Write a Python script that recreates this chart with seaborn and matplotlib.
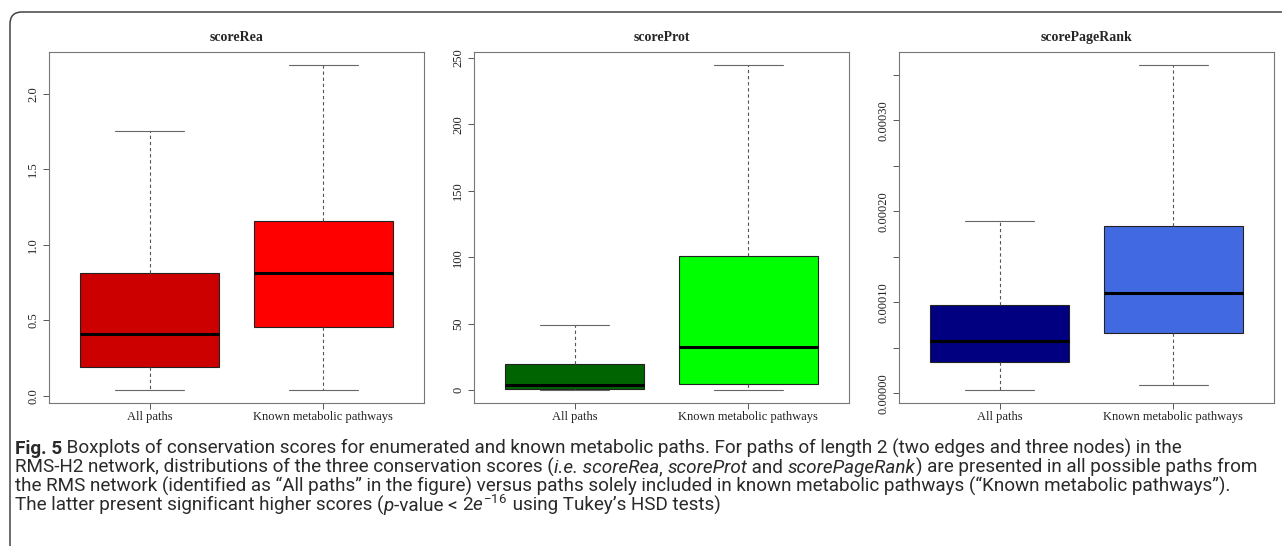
import matplotlib
matplotlib.use('Agg')
import matplotlib.pyplot as plt
from matplotlib.patches import FancyBboxPatch
from matplotlib.transforms import IdentityTransform
import pandas as pd
import seaborn as sns

groups = ['All paths', 'Known metabolic pathways']

# five-number summaries: min, Q1, median, Q3, max
rea_all = [0.04, 0.194, 0.41, 0.817, 1.753]
rea_known = [0.04, 0.454, 0.817, 1.157, 2.19]
prot_all = [0.0, 0.5, 3.8, 19.5, 48.8]
prot_known = [0.0, 4.3, 32.3, 100.7, 244.7]
pr_all = [0.0000037, 0.0000347, 0.0000574, 0.0000969, 0.000190]
pr_known = [0.0000091, 0.0000659, 0.0001098, 0.0001837, 0.000361]

rea_ticks = [0.0, 0.5, 1.0, 1.5, 2.0]
rea_labels = ['0.0', '0.5', '1.0', '1.5', '2.0']
prot_ticks = [0, 50, 100, 150, 200, 250]
prot_labels = ['0', '50', '100', '150', '200', '250']
pr_ticks = [0, 0.00005, 0.0001, 0.00015, 0.0002, 0.00025, 0.0003, 0.00035]
pr_labels = ['0.00000', '', '0.00010', '', '0.00020', '', '0.00030', '']

panels = [
    ('scoreRea', rea_all, rea_known, ['#CD0000', '#FF0000'], rea_ticks, rea_labels),
    ('scoreProt', prot_all, prot_known, ['#006400', '#00FF00'], prot_ticks, prot_labels),
    ('scorePageRank', pr_all, pr_known, ['#000080', '#4169E1'], pr_ticks, pr_labels),
]

W, H = 1282, 546
sns.set_theme(style='ticks')
plt.rcParams['font.family'] = ['Liberation Serif', 'DejaVu Serif']
plt.rcParams['mathtext.fontset'] = 'custom'
plt.rcParams['mathtext.rm'] = 'Roboto'
plt.rcParams['mathtext.it'] = 'Roboto:italic'

fig = plt.figure(figsize=(W / 100, H / 100), dpi=100)

# rounded frame around the figure
frame = FancyBboxPatch((10, -30), 1320, H - 12 + 30, boxstyle='round,pad=0,rounding_size=12',
                       transform=IdentityTransform(), fill=False, ec='#444444', lw=1.1)
fig.patches.append(frame)

lefts = [49, 474, 899]
for (name, a, k, cols, ticks, labels), left in zip(panels, lefts):
    ax = fig.add_axes([left / W, 1 - 403 / H, 375 / W, 351 / H])
    df = pd.DataFrame({'group': [groups[0]] * 5 + [groups[1]] * 5, 'value': a + k})
    sns.boxplot(data=df, x='group', y='value', hue='group', palette=cols, saturation=1,
                whis=(0, 100), width=0.8, linecolor='#222222', linewidth=0.8,
                showfliers=False, legend=False, ax=ax,
                medianprops={'color': 'black', 'linewidth': 2.2},
                whiskerprops={'linestyle': (0, (3, 2.5)), 'color': '#555555'},
                capprops={'color': '#666666'})
    lo = min(a + k)
    hi = max(a + k)
    pad = 0.04 * (hi - lo)
    ax.set_ylim(lo - pad, hi + pad)
    ax.set_xlim(-0.58, 1.58)
    ax.set_yticks(ticks)
    ax.set_yticklabels(labels, rotation=90, va='center')
    ax.set_xlabel('')
    ax.set_ylabel('')
    ax.set_title(name, fontweight='bold', fontsize=10, pad=8)
    ax.tick_params(axis='both', labelsize=9.0, length=4, width=0.7, color='#555555',
                   labelcolor='#222222')
    ax.tick_params(axis='y', pad=3)
    ax.tick_params(axis='x', pad=1.5)
    for s in ax.spines.values():
        s.set_visible(True)
        s.set_color('#777777')
        s.set_linewidth(0.8)

# caption, drawn piece by piece to mix bold / italic
cap_font = ['Roboto', 'DejaVu Sans']
cap_size = 13.6
renderer = fig.canvas.get_renderer()


def piece_width(txt, **kw):
    t1 = fig.text(0, 0, txt + 'x', family=cap_font, size=cap_size, **kw)
    t2 = fig.text(0, 0, 'x', family=cap_font, size=cap_size, **kw)
    w = t1.get_window_extent(renderer).width - t2.get_window_extent(renderer).width
    t1.remove()
    t2.remove()
    return w


def caption_line(y_top, pieces):
    x = 15
    for txt, kw in pieces:
        fig.text(x, H - y_top, txt, family=cap_font, size=cap_size, va='baseline',
                 transform=IdentityTransform(), color='#2a2a2a', **kw)
        x += piece_width(txt, **kw)


B = {'weight': 'bold'}
I = {'style': 'italic'}
N = {}
caption_line(454, [('Fig. 5', B), (' Boxplots of conservation scores for enumerated and known metabolic paths. '
                                   'For paths of length 2 (two edges and three nodes) in the', N)])
caption_line(473, [('RMS-H2 network, distributions of the three conservation scores (', N),
                   ('i.e. scoreRea', I), (', ', N), ('scoreProt', I), (' and ', N),
                   ('scorePageRank', I), (') are presented in all possible paths from', N)])
caption_line(492, [('the RMS network (identified as \u201cAll paths\u201d in the figure) versus paths solely '
                    'included in known metabolic pathways (\u201cKnown metabolic pathways\u201d).', N)])
caption_line(511, [('The latter present significant higher scores (', N), ('p', I),
                   ('-value < ', N), (r'$2e^{-16}$', N), (' using Tukey\u2019s HSD tests)', N)])

fig.savefig('out.png', dpi=100)
